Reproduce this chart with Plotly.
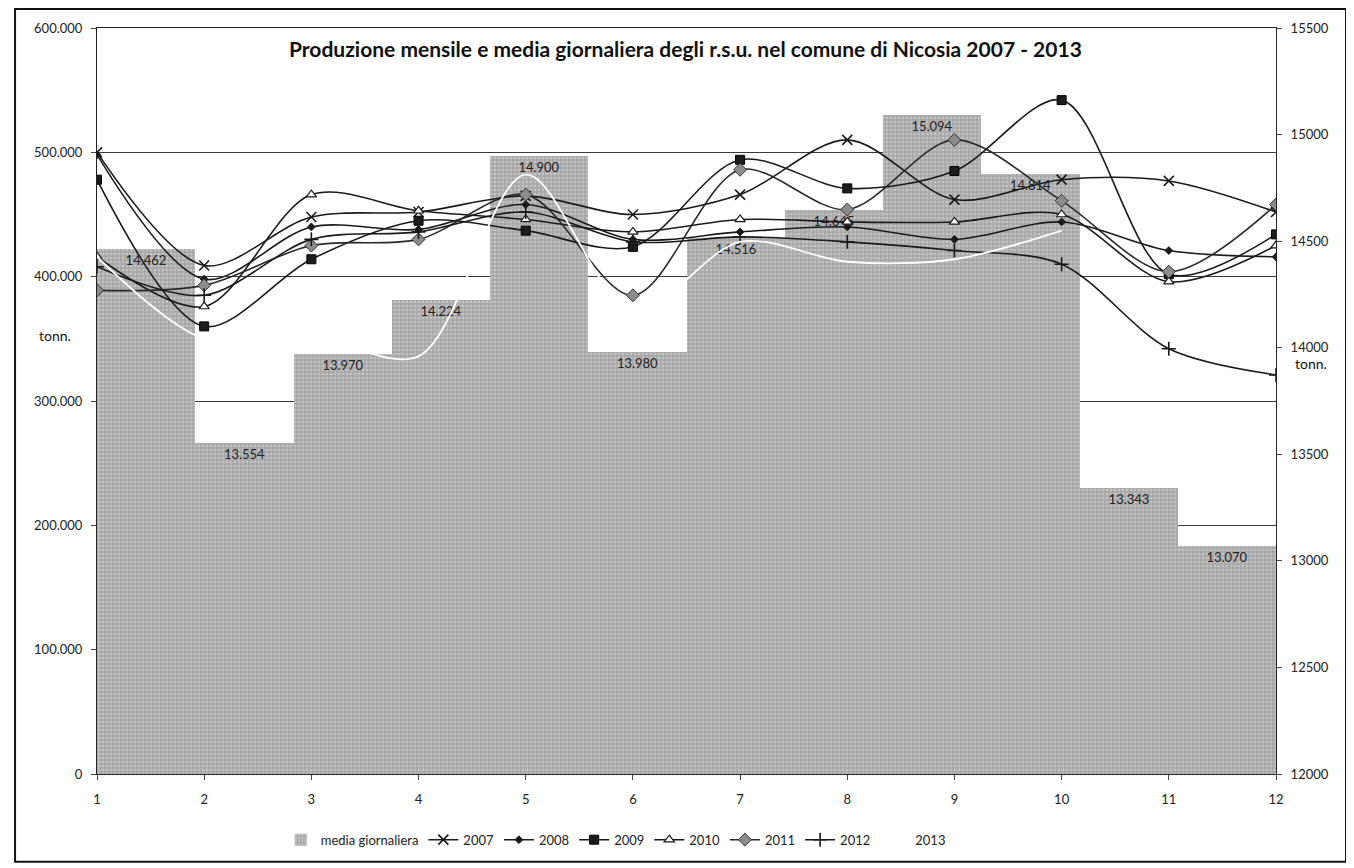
import plotly.graph_objects as go

months = [1, 2, 3, 4, 5, 6, 7, 8, 9, 10, 11, 12]
month_ticks = ["1", "2", "3", "4", "5", "6", "7", "8", "9", "10", "11", "12"]

# daily average (right axis)
media_giornaliera = [14462, 13554, 13970, 14224, 14900, 13980, 14516, 14645, 15094, 14814, 13343, 13070]

# monthly production (left axis, tonn.)
prod_2007 = [500000, 409000, 448000, 452000, 465000, 450000, 466000, 510000, 462000, 478000, 477000, 452000]
prod_2008 = [498000, 398000, 440000, 438000, 458000, 430000, 436000, 440000, 430000, 444000, 421000, 416000]
prod_2009 = [478000, 360000, 414000, 445000, 437000, 424000, 494000, 471000, 485000, 542000, 402000, 434000]
prod_2010 = [416000, 376000, 466000, 453000, 446000, 436000, 446000, 444000, 444000, 450000, 396000, 425000]
prod_2011 = [389000, 393000, 425000, 430000, 466000, 385000, 486000, 454000, 510000, 461000, 404000, 458000]
prod_2012 = [408000, 385000, 430000, 436000, 452000, 428000, 432000, 428000, 421000, 410000, 342000, 321000]
prod_2013 = [416000, 350000, 352000, 336000, 482000, 372000, 428000, 412000, 414000, 437000, None, None]

FONT = "Lato, Open Sans, sans-serif"
LINE = "#1a1a1a"

fig = go.Figure()

fig.add_trace(go.Bar(
    x=months, y=media_giornaliera, name="media giornaliera",
    xaxis="x", yaxis="y", width=1,
    marker=dict(color="#a9a9a9", line=dict(width=0),
                pattern=dict(shape=".", fgcolor="#e0e0e0", size=4, solidity=0.35)),
    text=[f"{v:,}".replace(",", ".") for v in media_giornaliera],
    textposition="inside", insidetextanchor="end", textangle=0,
    constraintext="none",
    textfont=dict(color="#222222", size=13, family=FONT),
))

series = [
    ("2007", prod_2007, dict(symbol="x-thin-open", size=10, color=LINE, line=dict(width=1.6, color=LINE)), LINE),
    ("2008", prod_2008, dict(symbol="diamond", size=6, color=LINE, line=dict(width=1, color=LINE)), LINE),
    ("2009", prod_2009, dict(symbol="square", size=9, color="#1c1c1c", line=dict(width=1, color="#000")), LINE),
    ("2010", prod_2010, dict(symbol="triangle-up", size=9, color="white", line=dict(width=1.2, color=LINE)), LINE),
    ("2011", prod_2011, dict(symbol="diamond", size=10, color="#8c8c8c", line=dict(width=1, color="#333")), "#2a2a2a"),
    ("2012", prod_2012, dict(symbol="cross-thin-open", size=10, color=LINE, line=dict(width=1.6, color=LINE)), LINE),
]
for name, vals, mk, lc in series:
    fig.add_trace(go.Scatter(
        x=months, y=vals, name=name, mode="lines+markers",
        xaxis="x2", yaxis="y2",
        line=dict(color=lc, width=1.6, shape="spline", smoothing=0.9),
        marker=mk,
    ))

fig.add_trace(go.Scatter(
    x=months, y=prod_2013, name="2013", mode="lines",
    xaxis="x2", yaxis="y2",
    line=dict(color="white", width=1.8, shape="spline", smoothing=0.9),
))

fig.update_layout(
    width=1346, height=860,
    margin=dict(l=89, r=78, t=17, b=94),
    paper_bgcolor="white", plot_bgcolor="white",
    separators=",.",
    font=dict(family=FONT, size=13, color="#222"),
    bargap=0,
    showlegend=True,
    legend=dict(orientation="h", x=0.44, xanchor="center", y=-0.068, yanchor="top",
                font=dict(size=13, family=FONT), itemwidth=30, traceorder="normal",
                tracegroupgap=0),
    xaxis=dict(range=[0.5, 12.5], showticklabels=False, ticks="", showgrid=False,
               showline=False, zeroline=False, fixedrange=True),
    yaxis=dict(range=[12000, 15500], dtick=500, side="right", tickformat="d",
               showgrid=False, zeroline=False, showline=True, linecolor="#222", linewidth=1,
               ticks="outside", ticklen=5, tickcolor="#444", ticklabelstandoff=6,
               tickfont=dict(size=13, family=FONT)),
    xaxis2=dict(overlaying="x", range=[1, 12], tickmode="array", tickvals=months, ticktext=month_ticks,
                side="bottom", showgrid=False, zeroline=False, showline=True, linecolor="#222",
                linewidth=1, mirror=True, ticks="outside", ticklen=5, tickcolor="#444",
                ticklabelstandoff=8, tickfont=dict(size=13, family=FONT)),
    yaxis2=dict(overlaying="y", range=[0, 600000], dtick=100000, side="left", tickformat=",.0f",
                showgrid=True, gridcolor="#3a3a3a", gridwidth=1, zeroline=False,
                showline=True, linecolor="#222", linewidth=1,
                ticks="outside", ticklen=5, tickcolor="#444", ticklabelstandoff=6,
                tickfont=dict(size=13, family=FONT)),
)

fig.add_annotation(text="<b>Produzione mensile e media giornaliera degli r.s.u. nel comune di Nicosia 2007 - 2013</b>",
                   xref="paper", yref="paper", x=0.499, y=0.972, xanchor="center", yanchor="middle",
                   showarrow=False, font=dict(size=21, family=FONT, color="#111"))
fig.add_annotation(text="tonn.", xref="paper", yref="paper", x=-0.036, y=0.588,
                   xanchor="center", yanchor="middle", showarrow=False,
                   font=dict(size=14, family=FONT, color="#111"))
fig.add_annotation(text="tonn.", xref="paper", yref="paper", x=1.030, y=0.55,
                   xanchor="center", yanchor="middle", showarrow=False,
                   font=dict(size=14, family=FONT, color="#111"))

# outer frame of the chart area
fig.add_shape(type="rect", xref="paper", yref="paper", x0=-0.0695, x1=1.0594, y0=-0.1175, y1=1.0254,
              line=dict(color="#111", width=2), fillcolor="rgba(0,0,0,0)", layer="above")

fig.write_html("out.html")
